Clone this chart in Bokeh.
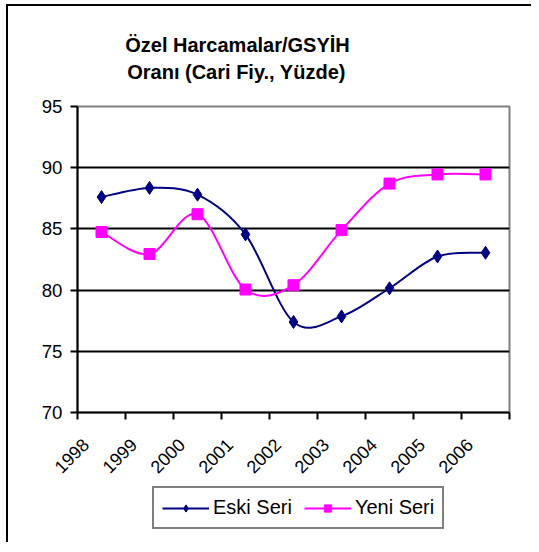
from math import pi
import numpy as np
from bokeh.plotting import figure
from bokeh.layouts import column
from bokeh.models import (FixedTicker, Range1d, Legend, LegendItem,
                          ColumnDataSource, Label)
from bokeh.embed import file_html
from bokeh.resources import INLINE

years = ["1998", "1999", "2000", "2001", "2002", "2003", "2004", "2005", "2006"]
eski = [87.6, 88.35, 87.8, 84.55, 77.4, 77.85, 80.15, 82.75, 83.05]
yeni = [84.75, 82.95, 86.2, 80.05, 80.4, 84.9, 88.7, 89.45, 89.45]
y_ticks = [70, 75, 80, 85, 90, 95]
title_lines = ["Özel Harcamalar/GSYİH", "Oranı (Cari Fiy., Yüzde)"]
series_names = ["Eski Seri", "Yeni Seri"]

xs = [i + 0.5 for i in range(len(years))]
label_pos = [x - 0.33 for x in xs]   # rotated labels sit left of centres
FONT = "Liberation Sans"
navy = "#000080"
mag = "#FF00FF"
W = 523
FW = 432   # frame width shared by all stacked panels (column aligns frames)


def smooth_segments(px, py, t=1.0 / 6.0):
    n = len(px)
    d = dict(x0=[], y0=[], x1=[], y1=[], cx0=[], cy0=[], cx1=[], cy1=[])
    for i in range(n - 1):
        pm = i - 1 if i > 0 else i
        pp = i + 2 if i + 2 < n else i + 1
        d["x0"].append(px[i]); d["y0"].append(py[i])
        d["x1"].append(px[i + 1]); d["y1"].append(py[i + 1])
        d["cx0"].append(px[i] + (px[i + 1] - px[pm]) * t)
        d["cy0"].append(py[i] + (py[i + 1] - py[pm]) * t)
        d["cx1"].append(px[i + 1] - (px[pp] - px[i]) * t)
        d["cy1"].append(py[i + 1] - (py[pp] - py[i]) * t)
    return ColumnDataSource(d)


def blank(height):
    f = figure(width=W, height=height, output_backend="svg",
               toolbar_location=None, x_axis_location=None,
               y_axis_location=None, x_range=Range1d(0, FW),
               y_range=Range1d(height, 0), min_border=0)
    f.grid.visible = False
    f.outline_line_color = None
    f.background_fill_color = "white"
    f.border_fill_color = "white"
    return f


# ---- title panel ----
pt = blank(90)
for t, (tx, ty) in zip(title_lines, [(160, 38), (159, 65)]):
    pt.add_layout(Label(x=tx, y=ty, text=t, text_align="center",
                        text_baseline="middle", text_font=FONT,
                        text_font_style="bold", text_font_size="20px",
                        text_color="black"))

# ---- main chart ----
p = figure(frame_width=FW, frame_height=306, output_backend="svg",
           toolbar_location=None,
           x_range=Range1d(0, len(years)), y_range=Range1d(70, 95),
           min_border_left=69, min_border_right=22, min_border_top=10,
           min_border_bottom=72, title=None)
p.background_fill_color = "white"
p.border_fill_color = "white"
p.outline_line_color = "#808080"
p.outline_line_width = 2

p.xgrid.visible = False
p.ygrid.ticker = FixedTicker(ticks=y_ticks[1:-1])
p.ygrid.grid_line_color = "black"
p.ygrid.grid_line_width = 2

p.yaxis.ticker = FixedTicker(ticks=y_ticks)
p.yaxis.axis_line_color = "black"
p.yaxis.axis_line_width = 2
p.yaxis.major_tick_in = 0
p.yaxis.major_tick_out = 7
p.yaxis.major_tick_line_width = 2
p.yaxis.minor_tick_line_color = None
p.yaxis.major_label_text_font = FONT
p.yaxis.major_label_text_font_size = "18.67px"
p.yaxis.major_label_text_color = "black"
p.yaxis.major_label_standoff = 8

p.xaxis.ticker = FixedTicker(ticks=label_pos,
                             minor_ticks=list(range(len(years) + 1)))
p.xaxis.major_label_overrides = {x: y for x, y in zip(label_pos, years)}
p.xaxis.axis_line_color = "black"
p.xaxis.axis_line_width = 2
p.xaxis.major_tick_in = 0
p.xaxis.major_tick_out = 0
p.xaxis.minor_tick_in = 0
p.xaxis.minor_tick_out = 7
p.xaxis.minor_tick_line_width = 2
p.xaxis.minor_tick_line_color = "black"
p.xaxis.major_label_orientation = pi / 4
p.xaxis.major_label_text_font = FONT
p.xaxis.major_label_text_font_size = "18px"
p.xaxis.major_label_text_color = "black"
p.xaxis.major_label_standoff = 22

p.bezier(x0="x0", y0="y0", x1="x1", y1="y1", cx0="cx0", cy0="cy0",
         cx1="cx1", cy1="cy1", source=smooth_segments(xs, eski),
         line_color=navy, line_width=2)
p.bezier(x0="x0", y0="y0", x1="x1", y1="y1", cx0="cx0", cy0="cy0",
         cx1="cx1", cy1="cy1", source=smooth_segments(xs, yeni),
         line_color=mag, line_width=2)
p.scatter(xs, eski, marker="diamond", size=13, fill_color=navy,
          line_color=navy)
p.scatter(xs, yeni, marker="square", size=11, fill_color=mag,
          line_color=mag)

# ---- legend panel ----
p2 = blank(58)
nan2 = [np.nan, np.nan]
l1 = p2.line(x=nan2, y=nan2, line_color=navy, line_width=2)
m1 = p2.scatter(x=nan2, y=nan2, marker="diamond", size=13, fill_color=navy,
                line_color=navy)
l2 = p2.line(x=nan2, y=nan2, line_color=mag, line_width=2)
m2 = p2.scatter(x=nan2, y=nan2, marker="square", size=11, fill_color=mag,
                line_color=mag)
legend = Legend(items=[LegendItem(label=series_names[0], renderers=[l1, m1]),
                       LegendItem(label=series_names[1], renderers=[l2, m2])],
                location=(75, 13), orientation="horizontal",
                border_line_color="black", border_line_width=2,
                label_text_font=FONT, label_text_font_size="20px",
                label_text_color="black", glyph_width=47, glyph_height=18,
                padding=8, spacing=12, label_standoff=4,
                margin=0, background_fill_color="white",
                background_fill_alpha=1)
p2.add_layout(legend, "center")

layout = column(pt, p, p2, spacing=0,
                styles={"border-left": "2px solid black",
                        "border-top": "2px solid black",
                        "margin-left": "6px", "margin-top": "4px"})

open("out.html", "w").write(file_html(layout, INLINE))
